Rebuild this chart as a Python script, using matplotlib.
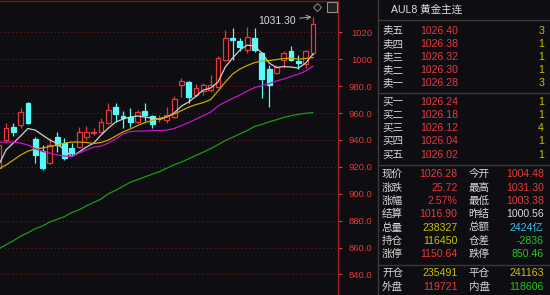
import matplotlib
matplotlib.use("Agg")
import matplotlib.pyplot as plt
from matplotlib.lines import Line2D

plt.rcParams['font.family'] = ['Liberation Sans', 'Noto Sans CJK SC']

# K线数据：开、高、低、收
opens = [919.1, 939.9, 949.6, 951.1, 967.4, 940.7, 931.7, 922.8, 942.1, 937.7, 934.0, 934.7, 942.1, 945.1,
         945.9, 952.5, 964.4, 957.8, 957.0, 953.3, 961.5, 957.8, 955.5, 954.8, 957.0, 980.8, 983.0, 973.4,
         976.3, 977.1, 979.3, 999.4, 1015.7, 1013.5, 1006.8, 1015.7, 1004.6, 992.7, 989.7, 999.4, 1006.1,
         998.6, 996.4, 1004.48]
highs = [939.9, 952.5, 952.5, 963.7, 968.2, 942.1, 936.2, 941.4, 945.9, 941.4, 937.7, 949.6, 950.3, 948.8,
         956.3, 967.4, 967.4, 961.5, 963.7, 962.2, 967.4, 958.5, 958.5, 964.4, 972.6, 986.0, 983.8, 981.5,
         982.3, 988.2, 1002.4, 1021.7, 1023.2, 1015.7, 1023.9, 1023.2, 1005.3, 995.7, 995.7, 1006.1, 1009.8,
         1003.1, 1006.8, 1031.30]
lows = [916.1, 937.7, 942.9, 948.8, 951.8, 922.8, 917.6, 922.1, 931.0, 925.0, 928.0, 934.0, 939.9, 943.6,
        945.1, 951.8, 953.3, 948.8, 949.6, 952.5, 954.0, 948.8, 953.3, 952.5, 956.3, 971.9, 967.4, 971.9,
        973.4, 975.6, 978.6, 998.6, 999.4, 1006.1, 1004.6, 1005.3, 971.1, 964.4, 989.0, 993.4, 998.6,
        992.7, 993.4, 1003.38]
closes = [936.2, 948.8, 945.9, 960.7, 952.5, 928.8, 919.1, 936.2, 936.2, 926.5, 930.2, 945.9, 945.9, 945.9,
          953.3, 962.2, 959.2, 956.3, 953.3, 960.7, 958.5, 951.8, 955.9, 958.5, 970.4, 983.8, 971.9, 978.6,
          980.8, 980.8, 1000.9, 1015.7, 1014.3, 1009.1, 1016.5, 1006.8, 985.3, 980.8, 994.2, 1004.6, 999.4,
          997.2, 1006.1, 1026.28]

# 均线
ma5 = [921.3, 932.5, 937.7, 942.9, 948.5, 947.3, 943.6, 939.9, 937.3, 932.5, 927.6, 931.0, 934.7, 937.7,
       943.6, 948.8, 953.3, 955.5, 957.0, 957.8, 957.0, 956.3, 955.5, 957.0, 960.0, 965.2, 968.2, 972.6,
       977.1, 978.6, 983.0, 994.2, 1000.9, 1006.8, 1010.5, 1009.8, 1004.6, 997.2, 993.8, 994.6, 994.2,
       993.4, 997.2, 1003.9]
ma10 = [918.4, 921.3, 925.0, 928.8, 931.7, 933.2, 934.0, 935.1, 936.2, 937.7, 938.4, 938.4, 938.1, 937.3,
        938.1, 939.9, 942.9, 945.9, 948.1, 950.7, 952.9, 954.4, 955.9, 957.4, 959.2, 961.8, 964.4, 966.3,
        967.8, 970.0, 976.3, 983.0, 989.0, 992.7, 995.3, 997.5, 998.6, 999.0, 999.8, 1000.5, 1000.7,
        1000.1, 1000.5, 1001.3]
ma20 = [938.4, 938.4, 938.4, 937.7, 936.2, 933.6, 931.4, 930.2, 928.8, 928.0, 927.6, 930.2, 932.5, 934.7,
        935.4, 937.7, 940.7, 944.4, 946.2, 946.6, 946.6, 947.0, 947.0, 947.3, 948.5, 950.7, 952.9, 955.5,
        958.1, 960.7, 965.2, 968.2, 970.8, 973.4, 976.3, 978.9, 980.4, 981.9, 983.8, 985.3, 987.1, 989.0,
        991.2, 994.9]
ma60 = [859, 862, 865, 868.5, 871, 874, 876, 879, 881, 883, 886, 888, 891, 893.5, 896, 900, 902.5, 905.5,
        908.5, 910.5, 912.5, 914.5, 916.5, 919, 921.5, 923.5, 926, 928.5, 931, 933.5, 936.5, 939.5, 942,
        944.5, 947, 950, 951.5, 953.5, 955, 956.8, 958, 959, 959.8, 960.3]

y_ticks = [840, 860, 880, 900, 920, 940, 960, 980, 1000, 1020]
y_labels = ['840.0', '860.0', '880.0', '900.0', '920.0', '940.0', '960.0', '980.0', '1000', '1020']

# 盘口
title = 'AUL8 黄金主连'
sell_names = ['卖五', '卖四', '卖三', '卖二', '卖一']
sell_prices = ['1026.40', '1026.38', '1026.32', '1026.30', '1026.28']
sell_vols = ['3', '1', '1', '1', '3']
buy_names = ['买一', '买二', '买三', '买四', '买五']
buy_prices = ['1026.24', '1026.18', '1026.12', '1026.04', '1026.02']
buy_vols = ['1', '1', '4', '1', '1']

RED = '#e8383a'
CYAN = '#54fcfc'
YEL = '#c8c400'
GRN = '#1ec81e'
WHT = '#d8d8d8'
BG = '#0e0d11'

stats = [
    ('现价', '1026.28', RED, '今开', '1004.48', RED),
    ('涨跌', '25.72', RED, '最高', '1031.30', RED),
    ('涨幅', '2.57%', RED, '最低', '1003.38', RED),
    ('结算', '1016.90', RED, '昨结', '1000.56', WHT),
    ('总量', '238327', YEL, '总额', '2424亿', '#30c8f0'),
    ('持仓', '116450', YEL, '仓差', '-2836', GRN),
    ('涨停', '1150.64', RED, '跌停', '850.46', GRN),
]
stats2 = [
    ('开仓', '235491', YEL, '平仓', '241163', YEL),
    ('外盘', '119721', RED, '内盘', '118606', GRN),
]

W, H = 550, 295
fig = plt.figure(figsize=(5.5, 2.95), dpi=100, facecolor=BG)

# 主图
ax = fig.add_axes([0, 0, 338 / W, 294 / H], facecolor=BG)
n = len(opens)
xs = list(range(n))
for i in xs:
    up = closes[i] >= opens[i]
    col = RED if up else CYAN
    ax.vlines(i, lows[i], highs[i], color=col, lw=0.9, zorder=2)
    lo, hi = min(opens[i], closes[i]), max(opens[i], closes[i])
    h = max(hi - lo, 0.4)
    if up:
        ax.bar(i, h, bottom=lo, width=0.66, facecolor=BG, edgecolor=col, lw=0.9, zorder=3)
    else:
        ax.bar(i, h, bottom=lo, width=0.66, facecolor=col, edgecolor=col, lw=0.9, zorder=3)

ax.plot(xs, ma5, color='#d0d0d0', lw=0.9, zorder=4)
ax.plot(xs, ma10, color='#c8a800', lw=0.9, zorder=4)
ax.plot(xs, ma20, color='#c814c8', lw=0.9, zorder=4)
ax.plot(xs, ma60, color='#14a014', lw=0.9, zorder=4)

ax.annotate('1031.30', xy=(42.8, 1031.5), xytext=(40.6, 1028.6),
            ha='right', va='center', color=WHT, fontsize=7.5,
            arrowprops=dict(arrowstyle='->', color='#b0b0b0', lw=0.7, shrinkA=1, shrinkB=0))

ax.set_xlim(0.18, 46.42)
ax.set_ylim(824.7, 1043.3)
ax.set_xticks([])
ax.set_yticks(y_ticks)
ax.set_yticklabels(y_labels)
ax.yaxis.tick_right()
ax.tick_params(axis='y', colors=RED, labelsize=6.8, length=3, width=0.8, pad=21.5)
for lab in ax.get_yticklabels():
    lab.set_horizontalalignment('right')
ax.grid(axis='y', color='#701818', ls=(0, (1, 2.5)), lw=0.8)
for s in ['left', 'bottom']:
    ax.spines[s].set_visible(False)
ax.spines['right'].set_color('#a01c1c')
ax.spines['top'].set_color('#7a1616')
ax.spines['right'].set_linewidth(1)
ax.spines['top'].set_linewidth(1)

# 右上角小图标
def fx(px):
    return px / W

def fy(py):
    return 1 - py / H

fig.add_artist(Line2D([fx(317)], [fy(7)], marker='D', ms=4.5, mfc='none', mec='#808080', mew=0.8))
fig.add_artist(Line2D([fx(332)], [fy(7)], marker='s', ms=6.5, mfc='#202020', mec='#909090', mew=0.8))

# 盘口面板分隔线
sep = '#3a3a3a'
fig.add_artist(Line2D([fx(378), fx(378)], [0, 1], color=sep, lw=1))
for yy in [20, 92.5, 164.5, 265]:
    fig.add_artist(Line2D([fx(378), 1], [fy(yy), fy(yy)], color=sep, lw=1))

fs = 7.6
fig.text(fx(391), fy(10), title, color='#e0e0e0', fontsize=fs, va='center')

for k in range(5):
    yy = 30.7 + 13.2 * k
    fig.text(fx(382), fy(yy), sell_names[k], color=WHT, fontsize=fs, va='center')
    fig.text(fx(420), fy(yy), sell_prices[k], color=RED, fontsize=fs, va='center')
    fig.text(fx(544), fy(yy), sell_vols[k], color=YEL, fontsize=fs, va='center', ha='right')
for k in range(5):
    yy = 101.7 + 13.2 * k
    fig.text(fx(382), fy(yy), buy_names[k], color=WHT, fontsize=fs, va='center')
    fig.text(fx(420), fy(yy), buy_prices[k], color=RED, fontsize=fs, va='center')
    fig.text(fx(544), fy(yy), buy_vols[k], color=YEL, fontsize=fs, va='center', ha='right')

def stat_rows(rows, y0):
    for k, (n1, v1, c1, n2, v2, c2) in enumerate(rows):
        yy = y0 + 13.35 * k
        fig.text(fx(382), fy(yy), n1, color=WHT, fontsize=fs, va='center')
        fig.text(fx(457.5), fy(yy), v1, color=c1, fontsize=fs, va='center', ha='right')
        fig.text(fx(468.5), fy(yy), n2, color=WHT, fontsize=fs, va='center')
        fig.text(fx(544), fy(yy), v2, color=c2, fontsize=fs, va='center', ha='right')

stat_rows(stats, 174.3)
stat_rows(stats2, 273.3)

fig.savefig('out.png', dpi=100, facecolor=BG)
